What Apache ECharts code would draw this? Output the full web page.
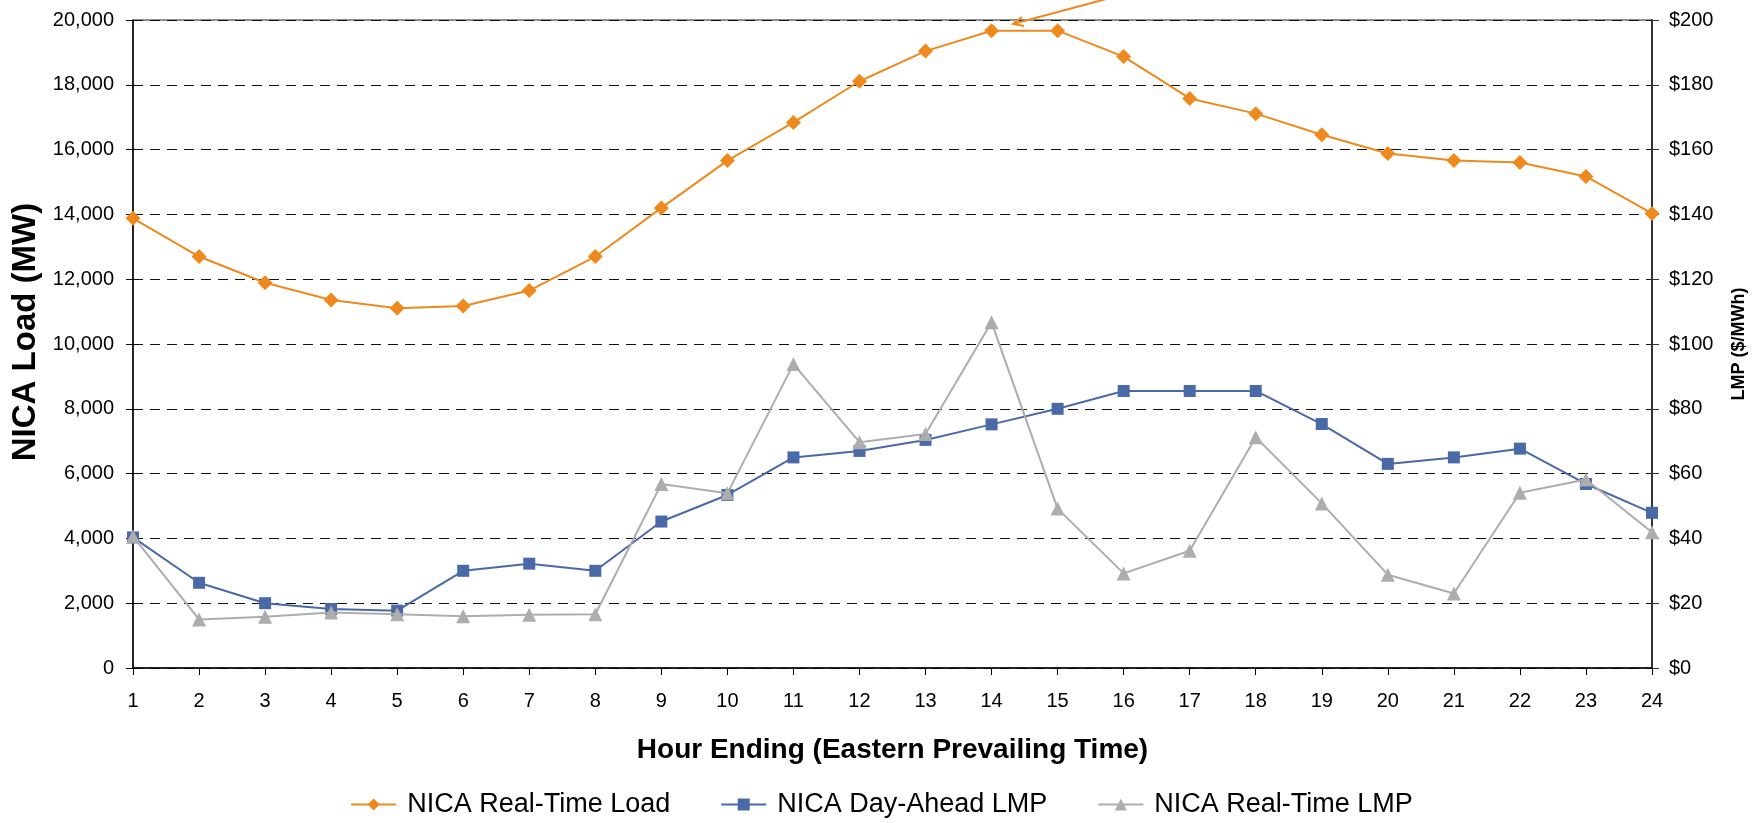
<!DOCTYPE html>
<html>
<head>
<meta charset="utf-8">
<script src="https://cdn.jsdelivr.net/npm/echarts@6/dist/echarts.min.js"></script>
<style>
html,body{margin:0;padding:0;background:#fff;}
#chart{width:1763px;height:823px;}
</style>
</head>
<body>
<div id="chart"></div>
<script>
const hours = ['1','2','3','4','5','6','7','8','9','10','11','12','13','14','15','16','17','18','19','20','21','22','23','24'];
const realTimeLoad = [13880, 12700, 11890, 11360, 11100, 11170, 11650, 12700, 14200, 15660, 16840, 18110, 19040, 19670, 19670, 18870, 17580, 17110, 16460, 15880, 15660, 15600, 15170, 14030];
const dayAheadLMP = [40.3, 26.3, 20.0, 18.2, 17.7, 30.0, 32.2, 30.0, 45.2, 53.4, 65.0, 67.0, 70.4, 75.2, 80.0, 85.5, 85.5, 85.5, 75.3, 63.0, 65.0, 67.7, 56.8, 47.9];
const realTimeLMP = [40.6, 15.0, 15.8, 17.1, 16.6, 16.0, 16.4, 16.6, 56.8, 53.9, 93.8, 69.7, 72.2, 106.7, 49.2, 29.2, 36.2, 71.2, 50.8, 28.8, 23.0, 54.1, 58.2, 41.9];
const loadTicks = [0, 2000, 4000, 6000, 8000, 10000, 12000, 14000, 16000, 18000, 20000];
const lmpTicks = [0, 20, 40, 60, 80, 100, 120, 140, 160, 180, 200];
const seriesNames = ['NICA Real-Time Load', 'NICA Day-Ahead LMP', 'NICA Real-Time LMP'];

const FONT = "'Liberation Sans Narrow', 'Arial Narrow', 'Liberation Sans', Arial, sans-serif";
const ORANGE = '#EE8A1D', BLUE = '#4A69A7', GRAY = '#ADADAD';

const chart = echarts.init(document.getElementById('chart'), null, {renderer: 'canvas'});
const gridLine = {show: true, lineStyle: {color: '#111', type: [10, 7], width: 1}};
chart.setOption({
  animation: false,
  backgroundColor: '#fff',
  grid: {left: 133, right: 111, top: 20, bottom: 155, show: true, borderColor: '#222', borderWidth: 1},
  legend: {
    data: seriesNames,
    top: 786,
    left: 'center',
    itemWidth: 45,
    itemHeight: 15,
    itemGap: 50,
    textStyle: {fontFamily: FONT, fontSize: 27, color: '#000', padding: [0, 0, 0, 6]}
  },
  xAxis: {
    type: 'category',
    data: hours,
    boundaryGap: false,
    name: 'Hour Ending (Eastern Prevailing Time)',
    nameLocation: 'middle',
    nameGap: 68,
    nameTextStyle: {fontFamily: FONT, fontWeight: 'bold', fontSize: 28, color: '#000'},
    axisLine: {lineStyle: {color: '#000', width: 1.5}},
    axisTick: {show: true, length: 7, alignWithLabel: true, lineStyle: {color: '#000'}},
    axisLabel: {fontFamily: FONT, fontSize: 20, color: '#000', margin: 23}
  },
  yAxis: [{
    type: 'value',
    min: loadTicks[0],
    max: loadTicks[loadTicks.length - 1],
    interval: loadTicks[1] - loadTicks[0],
    name: 'NICA Load (MW)',
    nameLocation: 'middle',
    nameGap: 71,
    nameTextStyle: {fontFamily: FONT, fontWeight: 'bold', fontSize: 33, color: '#000', padding: [0, 0, 0, 24]},
    axisLine: {show: true, lineStyle: {color: '#000', width: 1.5}},
    axisTick: {show: true, length: 7, lineStyle: {color: '#000'}},
    axisLabel: {fontFamily: FONT, fontSize: 20, color: '#000', margin: 19,
      formatter: v => v.toLocaleString('en-US')},
    splitLine: gridLine
  }, {
    type: 'value',
    position: 'right',
    min: lmpTicks[0],
    max: lmpTicks[lmpTicks.length - 1],
    interval: lmpTicks[1] - lmpTicks[0],
    name: 'LMP ($/MWh)',
    nameLocation: 'middle',
    nameGap: 78,
    nameRotate: 90,
    nameTextStyle: {fontFamily: FONT, fontWeight: 'bold', fontSize: 18, color: '#000'},
    axisLine: {show: true, lineStyle: {color: '#333', width: 2}},
    axisTick: {show: true, length: 7, lineStyle: {color: '#333'}},
    axisLabel: {fontFamily: FONT, fontSize: 20, color: '#000', margin: 17,
      formatter: v => '$' + v},
    splitLine: {show: false}
  }],
  series: [{
    name: seriesNames[0],
    type: 'line',
    yAxisIndex: 0,
    data: realTimeLoad,
    symbol: 'diamond',
    symbolSize: 15,
    itemStyle: {color: ORANGE},
    lineStyle: {color: ORANGE, width: 2},
    z: 3
  }, {
    name: seriesNames[1],
    type: 'line',
    yAxisIndex: 1,
    data: dayAheadLMP,
    symbol: 'rect',
    symbolSize: 12,
    itemStyle: {color: BLUE},
    lineStyle: {color: BLUE, width: 2},
    z: 2
  }, {
    name: seriesNames[2],
    type: 'line',
    yAxisIndex: 1,
    data: realTimeLMP,
    symbol: 'triangle',
    symbolSize: 14,
    itemStyle: {color: GRAY},
    lineStyle: {color: GRAY, width: 2},
    z: 4
  }],
  graphic: [{
    type: 'line',
    shape: {x1: 1110, y1: -2, x2: 1013, y2: 24},
    style: {stroke: ORANGE, lineWidth: 2},
    z: 10
  }, {
    type: 'polyline',
    shape: {points: [[1022, 17], [1013, 24], [1024, 26]]},
    style: {stroke: ORANGE, lineWidth: 2, fill: null},
    z: 10
  }]
});
</script>
</body>
</html>
